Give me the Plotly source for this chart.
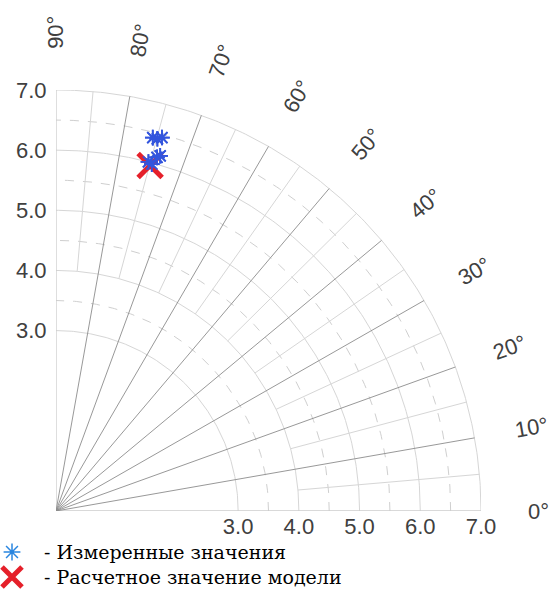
import numpy as np
import plotly.graph_objects as go

# ---- data ----
measured_theta = [75.6, 74.9, 74.3, 75.3, 74.7, 74.2, 73.8]   # degrees
measured_r = [6.41, 6.41, 6.45, 6.00, 5.98, 6.11, 6.15]
model_theta = [74.9]
model_r = [5.95]

tick_vals = [3, 4, 5, 6, 7]
tick_text = ["3.0", "4.0", "5.0", "6.0", "7.0"]
solid_circles = [3, 4, 5, 6, 7]
dashed_circles = [3.5, 4.5, 5.5, 6.5]
major_angles = [10, 20, 30, 40, 50, 60, 70, 80]
minor_angles = [5, 15, 25, 35, 45, 55, 65, 75, 85]
edge_angles = [0, 90]
angle_labels = [0, 10, 20, 30, 40, 50, 60, 70, 80, 90]

legend_names = ["- Измеренные значения", "- Расчетное значение модели"]

R_MAX = 7.0
LABEL_R = 7.95
W, H = 556, 591
# plot box in pixels
PX0, PX1 = 56, 481
PY_TOP, PY_BOT = 90, 511


def pol2cart(theta_deg, r):
    t = np.radians(np.asarray(theta_deg, dtype=float))
    r = np.asarray(r, dtype=float)
    return r * np.cos(t), r * np.sin(t)


def arcs(radii):
    xs, ys = [], []
    th = np.linspace(0, 90, 181)
    for rr in radii:
        x, y = pol2cart(th, np.full_like(th, rr))
        xs += list(x) + [None]
        ys += list(y) + [None]
    return xs, ys


def spokes(angles, r0, r1):
    xs, ys = [], []
    for a in angles:
        x, y = pol2cart([a, a], [r0, r1])
        xs += list(x) + [None]
        ys += list(y) + [None]
    return xs, ys


fig = go.Figure()

x, y = arcs(dashed_circles)
fig.add_trace(go.Scatter(x=x, y=y, mode="lines", line=dict(color="#cfcfcf", width=1, dash="dash"),
                         hoverinfo="skip", showlegend=False))
x, y = arcs(solid_circles)
fig.add_trace(go.Scatter(x=x, y=y, mode="lines", line=dict(color="#d6d6d6", width=1),
                         hoverinfo="skip", showlegend=False))
x, y = spokes(minor_angles, 4, R_MAX)
fig.add_trace(go.Scatter(x=x, y=y, mode="lines", line=dict(color="#d6d6d6", width=1),
                         hoverinfo="skip", showlegend=False))
x, y = spokes(edge_angles, 0, R_MAX)
fig.add_trace(go.Scatter(x=x, y=y, mode="lines", line=dict(color="#cccccc", width=1.3),
                         hoverinfo="skip", showlegend=False))
x, y = spokes(major_angles, 0, R_MAX)
fig.add_trace(go.Scatter(x=x, y=y, mode="lines", line=dict(color="#8c8c8c", width=0.9),
                         hoverinfo="skip", showlegend=False))

# data points
mx, my = pol2cart(measured_theta, measured_r)
fig.add_trace(go.Scatter(x=mx, y=my, mode="markers", name=legend_names[0], showlegend=False,
                         marker=dict(symbol="asterisk-open", size=13, color="#3355dd",
                                     line=dict(color="#3355dd", width=1.8))))
px_, py_ = pol2cart(model_theta, model_r)
fig.add_trace(go.Scatter(x=px_, y=py_, mode="markers", name=legend_names[1], showlegend=False,
                         marker=dict(symbol="x-thin-open", size=24, color="#e5202a",
                                     line=dict(color="#e5202a", width=5))))
fig.add_trace(go.Scatter(x=mx, y=my, mode="markers", showlegend=False, hoverinfo="skip",
                         marker=dict(symbol="asterisk-open", size=13, color="#3355dd",
                                     line=dict(color="#3355dd", width=1.8))))


# angular labels (paper coordinates derived from the plot box)
def to_paper(xd, yd):
    xp = (PX0 + xd / R_MAX * (PX1 - PX0)) / W
    yp = 1 - (PY_BOT - yd / R_MAX * (PY_BOT - PY_TOP)) / H
    return xp, yp


for a in angle_labels:
    ax_, ay_ = pol2cart([a], [LABEL_R])
    xp, yp = to_paper(float(ax_[0]), float(ay_[0]))
    fig.add_annotation(x=xp, y=yp, xref="paper", yref="paper",
                       text=f"{a}°", showarrow=False, textangle=-a, xanchor="center", yanchor="middle",
                       font=dict(family="Liberation Sans, Arial", size=22, color="#404040"))

# manual legend on an auxiliary pixel-scaled axis pair
legend_y_px = [552, 577]
fig.add_trace(go.Scatter(x=[12], y=[H - legend_y_px[0]], xaxis="x2", yaxis="y2", mode="markers",
                         hoverinfo="skip", showlegend=False,
                         marker=dict(symbol="asterisk-open", size=14, color="#2a86e0",
                                     line=dict(color="#2a86e0", width=1.5))))
fig.add_trace(go.Scatter(x=[12], y=[H - legend_y_px[1]], xaxis="x2", yaxis="y2", mode="markers",
                         hoverinfo="skip", showlegend=False,
                         marker=dict(symbol="x-thin-open", size=20, color="#e5202a",
                                     line=dict(color="#e5202a", width=5))))
for name, ypx in zip(legend_names, legend_y_px):
    fig.add_annotation(x=42 / W, y=1 - ypx / H, xref="paper", yref="paper", text=name,
                       showarrow=False, xanchor="left", yanchor="middle",
                       font=dict(family="DejaVu Serif, Times New Roman", size=19, color="black"))

tickfont = dict(family="Liberation Sans, Arial", size=22, color="#404040")
fig.update_layout(
    width=W, height=H,
    margin=dict(l=0, r=0, t=0, b=0, pad=0, autoexpand=False),
    paper_bgcolor="white", plot_bgcolor="white",
    showlegend=False,
    xaxis=dict(domain=[PX0 / W, PX1 / W], range=[0, R_MAX], tickvals=tick_vals, ticktext=tick_text,
               showgrid=False, zeroline=False, showline=False, ticks="", ticklen=0,
               tickfont=tickfont, automargin=False),
    yaxis=dict(domain=[1 - PY_BOT / H, 1 - PY_TOP / H], range=[0, R_MAX], tickvals=tick_vals,
               ticktext=tick_text, showgrid=False, zeroline=False, showline=False, ticks="outside",
               ticklen=4, tickcolor="rgba(0,0,0,0)", tickfont=tickfont, automargin=False),
    xaxis2=dict(domain=[0, 1], range=[0, W], visible=False, anchor="y2", automargin=False),
    yaxis2=dict(domain=[0, 1 - PY_BOT / H - 0.001], range=[0, H - PY_BOT - 0.001 * H], visible=False,
                anchor="x2", automargin=False),
)

fig.write_html("out.html")
